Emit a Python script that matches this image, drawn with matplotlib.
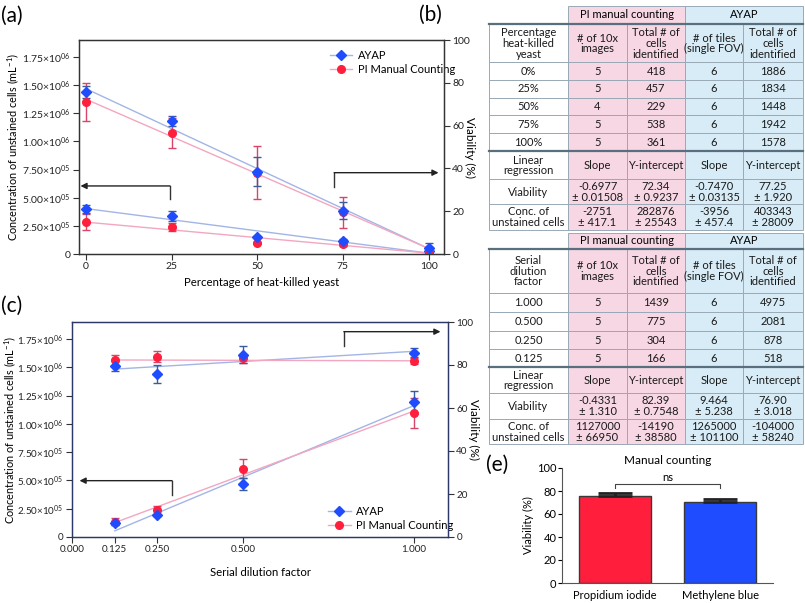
import numpy as np
import matplotlib.pyplot as plt
from matplotlib.patches import Rectangle
from matplotlib.lines import Line2D
from matplotlib.ticker import FuncFormatter

plt.rcParams['font.family'] = ['Lato', 'DejaVu Sans']
plt.rcParams['mathtext.fontset'] = 'custom'
plt.rcParams['mathtext.rm'] = 'Lato'
plt.rcParams['mathtext.it'] = 'Lato:italic'

# ---- panel (a): heat-killed yeast ----
pct = [0, 25, 50, 75, 100]
a_via_ayap = [75.7, 62.1, 38.5, 20.2, 3.0]
a_via_ayap_err = [2.7, 2.2, 6.7, 3.9, 2.0]
a_via_pi = [71.2, 56.4, 38.0, 19.5, 1.5]
a_via_pi_err = [8.9, 7.0, 12.5, 7.2, 2.0]
a_conc_ayap = [4.0e5, 3.38e5, 1.54e5, 1.15e5, 0.3e5]
a_conc_ayap_err = [0.38e5, 0.45e5, 0.1e5, 0.2e5, 0.1e5]
a_conc_pi = [2.87e5, 2.37e5, 1.0e5, 0.89e5, 0.1e5]
a_conc_pi_err = [0.71e5, 0.35e5, 0.08e5, 0.2e5, 0.1e5]
# (slope, intercept) from table (b)
a_fit_via_pi = (-0.6977, 72.34)
a_fit_via_ayap = (-0.7470, 77.25)
a_fit_conc_pi = (-2751, 282876)
a_fit_conc_ayap = (-3956, 403343)

# ---- panel (c): serial dilution ----
dil = [0.125, 0.25, 0.5, 1.0]
c_via_ayap = [79.5, 75.8, 84.7, 85.7]
c_via_ayap_err = [2.2, 4.0, 4.0, 2.2]
c_via_pi = [82.3, 83.9, 83.1, 81.9]
c_via_pi_err = [2.5, 2.5, 2.0, 1.4]
c_conc_ayap = [1.2e5, 1.94e5, 4.67e5, 1.197e6]
c_conc_ayap_err = [0.15e5, 0.1e5, 0.51e5, 0.97e5]
c_conc_pi = [1.35e5, 2.38e5, 6.05e5, 1.094e6]
c_conc_pi_err = [0.3e5, 0.4e5, 0.88e5, 1.32e5]
c_fit_via_pi = (-0.4331, 82.39)
c_fit_via_ayap = (9.464, 76.90)
c_fit_conc_pi = (1127000, -14190)
c_fit_conc_ayap = (1265000, -104000)

# ---- tables (b) and (d) ----
groups = ['PI manual counting', 'AYAP']
b_head = ['Percentage\nheat-killed\nyeast', '# of 10x\nimages', 'Total # of\ncells\nidentified',
          '# of tiles\n(single FOV)', 'Total # of\ncells\nidentified']
b_rows = ['0%', '25%', '50%', '75%', '100%']
b_images = [5, 5, 4, 5, 5]
b_pi_cells = [418, 457, 229, 538, 361]
b_tiles = [6, 6, 6, 6, 6]
b_ayap_cells = [1886, 1834, 1448, 1942, 1578]
reg_head = ['Linear\nregression', 'Slope', 'Y-intercept', 'Slope', 'Y-intercept']
b_viability = ['-0.6977\n± 0.01508', '72.34\n± 0.9237', '-0.7470\n± 0.03135', '77.25\n± 1.920']
b_conc = ['-2751\n± 417.1', '282876\n± 25543', '-3956\n± 457.4', '403343\n± 28009']

d_head = ['Serial\ndilution\nfactor', '# of 10x\nimages', 'Total # of\ncells\nidentified',
          '# of tiles\n(single FOV)', 'Total # of\ncells\nidentified']
d_rows = ['1.000', '0.500', '0.250', '0.125']
d_images = [5, 5, 5, 5]
d_pi_cells = [1439, 775, 304, 166]
d_tiles = [6, 6, 6, 6]
d_ayap_cells = [4975, 2081, 878, 518]
d_viability = ['-0.4331\n± 1.310', '82.39\n± 0.7548', '9.464\n± 5.238', '76.90\n± 3.018']
d_conc = ['1127000\n± 66950', '-14190\n± 38580', '1265000\n± 101100', '-104000\n± 58240']

# ---- panel (e) ----
e_labels = ['Propidium iodide', 'Methylene blue']
e_values = [75.9, 70.7]
e_err = [2.4, 2.6]

W, H = 805, 603
BLUE, RED = '#1f4cff', '#ff1f3d'
BLUE_E, RED_E = '#3b5b9b', '#d9456a'
BLUE_L, RED_L = '#a3b5e6', '#f4a6c0'
PINK, SKY = '#f7d7e3', '#d7ecf6'


def px_axes(fig, left, top, right, bottom):
    return fig.add_axes([left / W, 1 - bottom / H, (right - left) / W, (bottom - top) / H])


def sci_fmt(v, pos):
    if v == 0:
        return '0'
    e = 6 if v >= 1e6 else 5
    return f'{v / 10**e:.2f}×10$^{{{e:02d}}}$'


def bracket(ax, x0, y0, y1, x1):
    ax.plot([x0, x0], [y0, y1], color='#333333', lw=1, transform=ax.transAxes, clip_on=False)
    ax.annotate('', xy=(x1, y1), xytext=(x0, y1), xycoords='axes fraction',
                arrowprops=dict(arrowstyle='-|>', color='#222222', lw=1, mutation_scale=9,
                                shrinkA=0, shrinkB=0))


def scatter_panel(ax, x, xfit, conc_a, conc_a_err, conc_p, conc_p_err,
                  via_a, via_a_err, via_p, via_p_err, fits, spine_col, lab_x, rlab_x, tick_fs):
    axr = ax.twinx()
    xf = np.array(xfit)
    fca, fcp, fva, fvp = fits
    ax.plot(xf, fca[0] * xf + fca[1], color=BLUE_L, lw=1)
    ax.plot(xf, fcp[0] * xf + fcp[1], color=RED_L, lw=1)
    axr.plot(xf, fva[0] * xf + fva[1], color=BLUE_L, lw=1)
    axr.plot(xf, fvp[0] * xf + fvp[1], color=RED_L, lw=1)
    ax.errorbar(x, conc_p, yerr=conc_p_err, fmt='o', color=RED, ecolor=RED_E, ms=5.5,
                capsize=3, elinewidth=1, capthick=1)
    ax.errorbar(x, conc_a, yerr=conc_a_err, fmt='D', color=BLUE, ecolor=BLUE_E, ms=5,
                capsize=3, elinewidth=1, capthick=1)
    axr.errorbar(x, via_p, yerr=via_p_err, fmt='o', color=RED, ecolor=RED_E, ms=5.5,
                 capsize=3, elinewidth=1, capthick=1)
    axr.errorbar(x, via_a, yerr=via_a_err, fmt='D', color=BLUE, ecolor=BLUE_E, ms=5,
                 capsize=3, elinewidth=1, capthick=1)
    ax.set_ylim(0, 1.9e6)
    ax.set_yticks(np.arange(0, 1.76e6, 2.5e5))
    ax.yaxis.set_major_formatter(FuncFormatter(sci_fmt))
    axr.set_ylim(0, 100)
    axr.set_yticks([0, 20, 40, 60, 80, 100])
    ax.set_ylabel('Concentration of unstained cells (mL$^{-1}$)', fontsize=7.8, va='center')
    axr.set_ylabel('Viability (%)', fontsize=8.5, rotation=270, va='center')
    ax.yaxis.set_label_coords(lab_x, 0.5)
    axr.yaxis.set_label_coords(rlab_x, 0.5)
    for a in (ax, axr):
        a.tick_params(labelsize=tick_fs, length=4, width=0.8, pad=2, colors='#333333',
                      labelcolor='#222222')
        for s in a.spines.values():
            s.set_color(spine_col)
            s.set_linewidth(0.9)
    return axr


fig = plt.figure(figsize=(W / 100, H / 100), dpi=100)

# overlay for tables and labels
tax = fig.add_axes([0, 0, 1, 1])
tax.set_xlim(0, W)
tax.set_ylim(H, 0)
tax.axis('off')

# ---- (a) ----
ax_a = px_axes(fig, 79, 40, 444, 254)
ax_a.set_xlim(-2, 104.5)
ax_a.set_xticks(pct)
scatter_panel(ax_a, pct, [0, 100], a_conc_ayap, a_conc_ayap_err, a_conc_pi, a_conc_pi_err,
              a_via_ayap, a_via_ayap_err, a_via_pi, a_via_pi_err,
              (a_fit_conc_ayap, a_fit_conc_pi, a_fit_via_ayap, a_fit_via_pi), '#333333',
              -(79 - 13) / 365, 1 + (470 - 444) / 365, 7.5)
ax_a.set_xlabel('Percentage of heat-killed yeast', fontsize=8.2, labelpad=4)
bracket(ax_a, 0.249, 0.256, 0.318, 0.004)
bracket(ax_a, 0.699, 0.315, 0.38, 0.985)

handles = [Line2D([], [], color=BLUE_L, marker='D', mfc=BLUE, mec=BLUE, ms=5, lw=1),
           Line2D([], [], color=RED_L, marker='o', mfc=RED, mec=RED, ms=5.5, lw=1)]
ax_a.legend(handles, ['AYAP', 'PI Manual Counting'], loc='upper left', bbox_to_anchor=(0.675, 0.975),
            frameon=False, fontsize=8, handlelength=2.0, handletextpad=0.5, borderaxespad=0,
            labelspacing=0.25)

# ---- (c) ----
ax_c = px_axes(fig, 72, 322, 448, 537)
ax_c.set_xlim(0, 1.1)
ax_c.set_xticks([0.0] + dil)
ax_c.set_xticklabels([f'{v:.3f}' for v in [0.0] + dil])
scatter_panel(ax_c, dil, [0.125, 1.0], c_conc_ayap, c_conc_ayap_err, c_conc_pi, c_conc_pi_err,
              c_via_ayap, c_via_ayap_err, c_via_pi, c_via_pi_err,
              (c_fit_conc_ayap, c_fit_conc_pi, c_fit_via_ayap, c_fit_via_pi), '#2b3868',
              -(72 - 10) / 376, 1 + (474 - 448) / 376, 7.1)
ax_c.set_xlabel('Serial dilution factor', fontsize=8.2, labelpad=9)
bracket(ax_c, 0.266, 0.195, 0.262, 0.02)
bracket(ax_c, 0.723, 0.888, 0.955, 0.98)
ax_c.legend(handles, ['AYAP', 'PI Manual Counting'], loc='upper left', bbox_to_anchor=(0.67, 0.165),
            frameon=False, fontsize=8, handlelength=2.0, handletextpad=0.5, borderaxespad=0,
            labelspacing=0.25)


# ---- tables ----
def draw_table(xs, ys, head, rows, cols, viab, conc):
    border, dark = '#9aa9b6', '#5a6f7e'
    fills = ['white', PINK, PINK, SKY, SKY]
    fs = 8
    tax.add_patch(Rectangle((xs[1], ys[0]), xs[3] - xs[1], ys[1] - ys[0], fc=PINK, ec=border, lw=0.7))
    tax.add_patch(Rectangle((xs[3], ys[0]), xs[5] - xs[3], ys[1] - ys[0], fc=SKY, ec=border, lw=0.7))
    tax.text((xs[1] + xs[3]) / 2, (ys[0] + ys[1]) / 2, groups[0], ha='center', va='center', fontsize=fs)
    tax.text((xs[3] + xs[5]) / 2, (ys[0] + ys[1]) / 2, groups[1], ha='center', va='center', fontsize=fs)
    body = [head]
    for i, r in enumerate(rows):
        body.append([r] + [str(c[i]) for c in cols])
    body.append(reg_head)
    body.append(['Viability'] + viab)
    body.append(['Conc. of\nunstained cells'] + conc)
    for i, row in enumerate(body):
        y0, y1 = ys[i + 1], ys[i + 2]
        for j, txt in enumerate(row):
            tax.add_patch(Rectangle((xs[j], y0), xs[j + 1] - xs[j], y1 - y0, fc=fills[j], ec=border, lw=0.7))
            tax.text((xs[j] + xs[j + 1]) / 2, (y0 + y1) / 2 + 0.5, txt, ha='center', va='center',
                     fontsize=fs, linespacing=0.95, color='#1a1a1a')
    for yy in (ys[1], ys[2 + len(rows)]):
        tax.plot([xs[0], xs[-1]], [yy, yy], color=dark, lw=1.6)


xs_tab = [489, 568, 627, 685, 743, 803]
draw_table(xs_tab, [6, 24, 62, 79.5, 97.5, 115, 133, 151, 179, 204, 229.5],
           b_head, b_rows, [b_images, b_pi_cells, b_tiles, b_ayap_cells], b_viability, b_conc)
draw_table(xs_tab, [232.5, 248.5, 293, 312, 330.5, 349, 367, 393, 418.5, 444],
           d_head, d_rows, [d_images, d_pi_cells, d_tiles, d_ayap_cells], d_viability, d_conc)

# panel labels
for lbl, x, y in [('(a)', 1, 16), ('(c)', 1, 306), ('(b)', 419, 15), ('(d)', 419, 242), ('(e)', 486, 465)]:
    tax.text(x, y, lbl, fontsize=15, ha='left', va='center')

# ---- (e) ----
ax_e = px_axes(fig, 562, 468, 773, 583)
xe = np.arange(len(e_labels))
ax_e.bar(xe, e_values, width=0.68, color=[RED, BLUE], edgecolor='#3a3a3a', lw=1)
ax_e.errorbar(xe, e_values, yerr=[[0, 0], e_err], fmt='none', ecolor='#222222',
              elinewidth=2, capsize=12, capthick=2)
ax_e.set_xlim(-0.5, 1.5)
ax_e.set_ylim(0, 100)
ax_e.set_yticks([0, 20, 40, 60, 80, 100])
ax_e.set_xticks(xe)
ax_e.set_xticklabels(e_labels)
ax_e.tick_params(axis='y', labelsize=8, length=3, width=0.8, pad=1)
ax_e.tick_params(axis='x', labelsize=8, length=0, pad=5)
ax_e.spines['top'].set_visible(False)
ax_e.spines['right'].set_visible(False)
for s in ('left', 'bottom'):
    ax_e.spines[s].set_color('#555555')
ax_e.set_ylabel('Viability (%)', fontsize=8, labelpad=2)
ax_e.set_title('Manual counting', fontsize=8.5, pad=3)
top = max(v + e for v, e in zip(e_values, e_err))
ax_e.plot([0, 0, 1, 1], [top + 4.5, top + 7.5, top + 7.5, top + 4.5], color='#444444', lw=0.8)
ax_e.text(0.5, top + 9, 'ns', ha='center', va='bottom', fontsize=8)

fig.savefig('out.png', dpi=100)
